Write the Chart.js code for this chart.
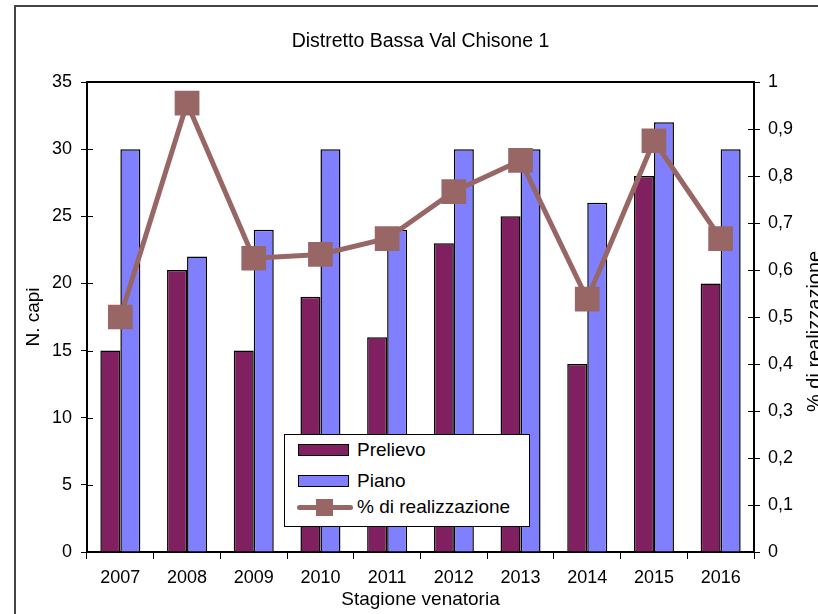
<!DOCTYPE html>
<html lang="it">
<head>
<meta charset="utf-8">
<title>Distretto Bassa Val Chisone 1</title>
<script src="https://cdn.jsdelivr.net/npm/chart.js@4.4.1/dist/chart.umd.min.js"></script>
<style>
    html, body { margin: 0; padding: 0; background: #fff; }
    #wrap { position: relative; width: 818px; height: 614px; overflow: hidden; }
    #legend-container {
        position: absolute; left: 284px; top: 434px; width: 246px; height: 93px;
        box-sizing: border-box; border: 1.5px solid #000; background: #fff;
        font-family: 'Liberation Sans', Arial, sans-serif; font-size: 19px; color: #000;
    }
    .legend-item { position: absolute; left: 0; right: 0; height: 24px; }
    .color-box {
        position: absolute; left: 13px; top: 6px; width: 51px; height: 12px;
        box-sizing: border-box; border: 1.5px solid #000;
    }
    .line-sample {
        position: absolute; left: 12px; top: 9.5px; width: 56px; height: 5px;
        border-radius: 2.5px; background: #996666;
    }
    .marker-sample {
        position: absolute; left: 31px; top: 3.5px; width: 17px; height: 17px; background: #996666;
    }
    .legend-label { position: absolute; left: 72px; top: 0; line-height: 24px; white-space: nowrap; }
</style>
</head>
<body>
<div id="wrap">
    <canvas id="prelieviChart" width="818" height="614"></canvas>
    <div id="legend-container"></div>
</div>
<script>
const stagioni = ['2007', '2008', '2009', '2010', '2011', '2012', '2013', '2014', '2015', '2016'];
const prelievo = [15, 21, 15, 19, 16, 23, 25, 14, 28, 20];
const piano = [30, 22, 24, 30, 24, 30, 30, 26, 32, 30];
const realizzazione = [0.5, 0.955, 0.625, 0.633, 0.667, 0.767, 0.833, 0.538, 0.875, 0.667];

const colorPrelievo = '#802060';
const colorPiano = '#8080ff';
const colorRealizzazione = '#996666';

Chart.defaults.font.family = "'Liberation Sans', Arial, sans-serif";
Chart.defaults.font.size = 18;
Chart.defaults.color = '#000';

// frame around the whole chart, box around the plot, ticks crossing both value axes
const framePlugin = {
    id: 'frame',
    beforeDraw(chart) {
        const ctx = chart.ctx;
        ctx.save();
        ctx.fillStyle = '#fff';
        ctx.fillRect(0, 0, chart.width, chart.height);
        ctx.strokeStyle = '#444';
        ctx.lineWidth = 2;
        ctx.strokeRect(15, 6, 900, 700);
        ctx.restore();
    },
    afterDraw(chart) {
        const ctx = chart.ctx;
        const area = chart.chartArea;
        ctx.save();
        ctx.strokeStyle = '#000';
        ctx.lineWidth = 2;
        ctx.beginPath();
        ctx.moveTo(area.left - 1, area.top);
        ctx.lineTo(area.right + 1, area.top);
        ctx.stroke();

        ctx.lineWidth = 1;
        ctx.beginPath();
        chart.scales.y.ticks.forEach(t => {
            const py = Math.round(chart.scales.y.getPixelForValue(t.value)) + 0.5;
            ctx.moveTo(area.left, py);
            ctx.lineTo(area.left + 6, py);
        });
        chart.scales.y1.ticks.forEach(t => {
            const py = Math.round(chart.scales.y1.getPixelForValue(t.value)) + 0.5;
            ctx.moveTo(area.right - 6, py);
            ctx.lineTo(area.right, py);
        });
        ctx.stroke();

        // right axis title, reading bottom to top
        ctx.fillStyle = '#000';
        ctx.font = "20px 'Liberation Sans', Arial, sans-serif";
        ctx.translate(821, 412);
        ctx.rotate(-Math.PI / 2);
        ctx.textAlign = 'left';
        ctx.textBaseline = 'alphabetic';
        ctx.fillText('% di realizzazione', 0, 0);
        ctx.restore();
    }
};

const ctx = document.getElementById('prelieviChart').getContext('2d');

const prelieviChart = new Chart(ctx, {
    data: {
        labels: stagioni,
        datasets: [
            {
                type: 'line',
                label: '% di realizzazione',
                data: realizzazione,
                yAxisID: 'y1',
                borderColor: colorRealizzazione,
                borderWidth: 5,
                pointStyle: 'rect',
                pointRadius: 17.5,
                pointBackgroundColor: colorRealizzazione,
                pointBorderWidth: 0,
                tension: 0,
                order: 0
            },
            {
                type: 'bar',
                label: 'Prelievo',
                data: prelievo,
                yAxisID: 'y',
                backgroundColor: colorPrelievo,
                borderColor: '#000',
                borderWidth: 1.5,
                borderSkipped: 'bottom',
                barPercentage: 1,
                categoryPercentage: 0.6,
                order: 1
            },
            {
                type: 'bar',
                label: 'Piano',
                data: piano,
                yAxisID: 'y',
                backgroundColor: colorPiano,
                borderColor: '#000',
                borderWidth: 1.5,
                borderSkipped: 'bottom',
                barPercentage: 1,
                categoryPercentage: 0.6,
                order: 1
            }
        ]
    },
    options: {
        responsive: false,
        animation: false,
        layout: { padding: 0 },
        plugins: {
            legend: { display: false },
            tooltip: { enabled: false },
            title: {
                display: true,
                fullSize: false,
                text: 'Distretto Bassa Val Chisone 1',
                font: { size: 19.5, weight: 'normal' },
                color: '#000',
                padding: { top: 30, bottom: 28.6 }
            }
        },
        scales: {
            x: {
                grid: { drawOnChartArea: false, tickLength: 7, color: '#000', offset: true },
                border: { color: '#000', width: 2 },
                ticks: { padding: 8, font: { size: 18 } },
                title: {
                    display: true,
                    text: 'Stagione venatoria',
                    font: { size: 19 },
                    padding: { top: 0, bottom: 3 }
                },
                afterFit(scale) { scale.height = 62; }
            },
            y: {
                position: 'left',
                min: 0,
                max: 35,
                ticks: { stepSize: 5, padding: 9, font: { size: 18 } },
                grid: { drawOnChartArea: false, tickLength: 6, color: '#000' },
                border: { color: '#000', width: 2 },
                title: {
                    display: true,
                    text: 'N. capi',
                    font: { size: 19 },
                    padding: { top: 22 }
                },
                afterFit(scale) { scale.width = 87; }
            },
            y1: {
                position: 'right',
                min: 0,
                max: 1,
                ticks: {
                    stepSize: 0.1,
                    padding: 8,
                    font: { size: 18 },
                    callback: function(value) {
                        return String(Math.round(value * 10) / 10).replace('.', ',');
                    }
                },
                grid: { drawOnChartArea: false, tickLength: 6, color: '#000' },
                border: { color: '#000', width: 2 },
                afterFit(scale) { scale.width = 64; }
            }
        }
    },
    plugins: [framePlugin]
});

const legendContainer = document.getElementById('legend-container');

function createLegend() {
    legendContainer.innerHTML = '';
    const rows = [
        { label: 'Prelievo', color: colorPrelievo, kind: 'box', top: 3 },
        { label: 'Piano', color: colorPiano, kind: 'box', top: 34 },
        { label: '% di realizzazione', color: colorRealizzazione, kind: 'line', top: 60 }
    ];
    rows.forEach(row => {
        const item = document.createElement('div');
        item.classList.add('legend-item');
        item.style.top = row.top + 'px';

        if (row.kind === 'box') {
            const colorBox = document.createElement('span');
            colorBox.classList.add('color-box');
            colorBox.style.backgroundColor = row.color;
            item.appendChild(colorBox);
        } else {
            const line = document.createElement('span');
            line.classList.add('line-sample');
            const marker = document.createElement('span');
            marker.classList.add('marker-sample');
            item.appendChild(line);
            item.appendChild(marker);
        }

        const labelSpan = document.createElement('span');
        labelSpan.classList.add('legend-label');
        labelSpan.textContent = row.label;
        item.appendChild(labelSpan);
        legendContainer.appendChild(item);
    });
}

createLegend();
</script>
</body>
</html>
